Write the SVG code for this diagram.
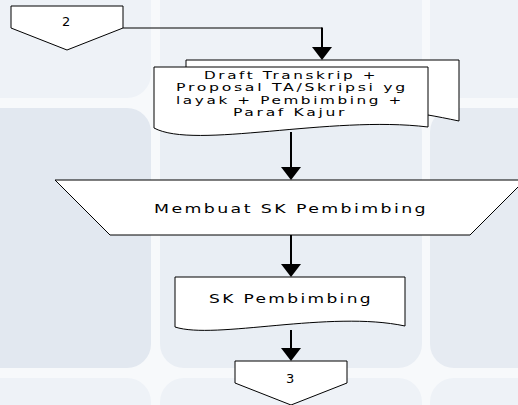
<svg xmlns="http://www.w3.org/2000/svg" width="518" height="405" viewBox="0 0 518 405">
  <defs>
    <style>
      .tile1 { fill: #eef2f7; }
      .tile2 { fill: #e2e8f0; }
      .tile3 { fill: #e9eef4; }
      .tile4 { fill: #e6ebf2; }
      .shape { fill: #ffffff; stroke: #000000; stroke-width: 1; stroke-linejoin: miter; }
      .lbl { font-family: "DejaVu Sans", "Liberation Sans", sans-serif; fill: #000000; text-anchor: middle; }
      .doc { font-size: 10.5px; letter-spacing: 1.8px; }
      .big { font-size: 13px; letter-spacing: 1.8px; }
      .conn { fill: none; stroke: #000000; stroke-width: 2; }
      .thin { fill: none; stroke: #000000; stroke-width: 1.2; }
    </style>
    <marker id="arrow" viewBox="0 0 13 20" markerUnits="userSpaceOnUse" markerWidth="13" markerHeight="20" refX="5" refY="10" orient="auto">
      <path d="M0,0 L13,10 L0,20 Z" fill="#000000"/>
    </marker>
  </defs>

  <g id="background">
    <rect x="0" y="0" width="518" height="405" fill="#f7f9fb"/>
    <rect class="tile1" x="-40" y="-40" width="191" height="138" rx="24"/>
    <rect class="tile1" x="160" y="-40" width="262" height="138" rx="24"/>
    <rect class="tile1" x="430" y="-40" width="130" height="138" rx="24"/>
    <rect class="tile2" x="-40" y="108" width="191" height="260" rx="24"/>
    <rect class="tile3" x="160" y="108" width="262" height="260" rx="24"/>
    <rect class="tile4" x="430" y="108" width="130" height="260" rx="24"/>
    <rect class="tile1" x="-40" y="378" width="191" height="80" rx="24"/>
    <rect class="tile1" x="160" y="378" width="262" height="80" rx="24"/>
    <rect class="tile1" x="430" y="378" width="130" height="80" rx="24"/>
  </g>

  <g id="offpage-2">
    <path class="shape" d="M11,6 H123 V28 L67,50 L11,28 Z"/>
    <text class="lbl big" x="67" y="26">2</text>
  </g>

  <g id="doc-draft">
    <path class="shape" d="M186,60 H459 V121 C447,118.5 437,116.5 428,115 L186,115 Z"/>
    <path class="shape" d="M154,67 H428 V127 C330,115 195,150 154,128 Z"/>
    <text class="lbl doc" x="291" y="79" textLength="174" lengthAdjust="spacingAndGlyphs">Draft Transkrip +</text>
    <text class="lbl doc" x="292" y="91.3" textLength="232" lengthAdjust="spacingAndGlyphs">Proposal TA/Skripsi yg</text>
    <text class="lbl doc" x="290" y="103.8" textLength="228" lengthAdjust="spacingAndGlyphs">layak + Pembimbing +</text>
    <text class="lbl doc" x="290" y="116.3" textLength="114" lengthAdjust="spacingAndGlyphs">Paraf Kajur</text>
  </g>

  <g id="manual-membuat">
    <path class="shape" d="M55,180 H525 L470,235 H110 Z"/>
    <text class="lbl big" x="291" y="212.5" textLength="274" lengthAdjust="spacingAndGlyphs">Membuat SK Pembimbing</text>
  </g>

  <g id="doc-sk">
    <path class="shape" d="M175,277 H405 V326 C330,310 215,340 175,327 Z"/>
    <text class="lbl big" x="291" y="302.5" textLength="164" lengthAdjust="spacingAndGlyphs">SK Pembimbing</text>
  </g>

  <g id="offpage-3">
    <path class="shape" d="M235,361 H347 V383 L291,405 L235,383 Z"/>
    <text class="lbl big" x="291" y="383">3</text>
  </g>

  <g id="connectors">
    <path class="thin" d="M123,28 H322"/>
    <path class="conn" d="M322,27.4 V52" marker-end="url(#arrow)"/>
    <path class="conn" d="M291,132 V172" marker-end="url(#arrow)"/>
    <path class="conn" d="M291,235 V269" marker-end="url(#arrow)"/>
    <path class="conn" d="M291,330 V353" marker-end="url(#arrow)"/>
  </g>
</svg>
